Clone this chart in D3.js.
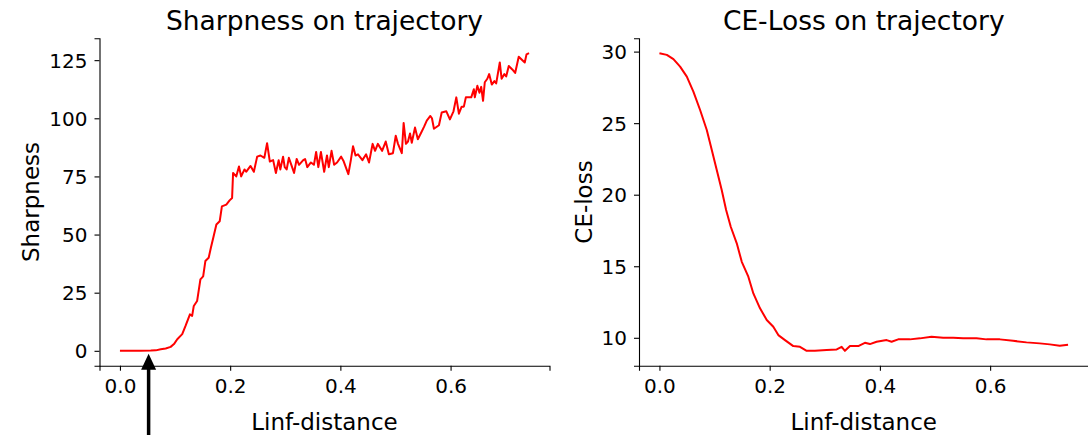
<!DOCTYPE html>
<html>
<head>
<meta charset="utf-8">
<script src="https://cdn.jsdelivr.net/npm/d3@7/dist/d3.min.js"></script>
<style>
  html, body { margin: 0; padding: 0; background: #fff; }
  svg { display: block; font-family: "DejaVu Sans", sans-serif; }
</style>
</head>
<body>
<svg id="chart" width="1088" height="435"></svg>
<script>
// Sharpness measured along the trajectory (Linf-distance from the start point)
const sharpDist = [
  0.000, 0.019, 0.037, 0.056, 0.065, 0.074, 0.083, 0.092, 0.098, 0.104,
  0.113, 0.119, 0.127, 0.131, 0.134, 0.140, 0.146, 0.151, 0.155, 0.161,
  0.165, 0.170, 0.175, 0.181, 0.185, 0.193, 0.199, 0.2035, 0.2053, 0.211,
  0.216, 0.220, 0.226, 0.229, 0.237, 0.243, 0.249, 0.255, 0.262, 0.267,
  0.272, 0.278, 0.283, 0.288, 0.291, 0.296, 0.299, 0.3025, 0.3065, 0.311,
  0.316, 0.3207, 0.325, 0.3326, 0.336, 0.340, 0.3466, 0.352, 0.356, 0.360,
  0.3647, 0.3706, 0.3757, 0.379, 0.384, 0.3887, 0.394, 0.4014, 0.406, 0.4145,
  0.419, 0.423, 0.4275, 0.432, 0.440, 0.4467, 0.452, 0.4585, 0.463, 0.468,
  0.4757, 0.4823, 0.488, 0.4954, 0.5005, 0.5046, 0.5115, 0.5148, 0.519, 0.5227,
  0.5264, 0.5296, 0.5354, 0.5406, 0.547, 0.5522, 0.5568, 0.5633, 0.5662, 0.5698,
  0.5789, 0.5839, 0.5923, 0.5988, 0.6053, 0.6104, 0.6151, 0.6201, 0.6241, 0.6277,
  0.6375, 0.6422, 0.644, 0.6486, 0.6524, 0.6556, 0.6589, 0.6621, 0.6667, 0.670,
  0.6748, 0.6795, 0.6828, 0.6893, 0.6926, 0.6976, 0.7009, 0.7056, 0.712, 0.7172,
  0.7237, 0.7346, 0.7378, 0.7424
];
const sharpValues = [
  0.0, 0.0, 0.0, 0.1, 0.2, 0.7, 1.0, 1.7, 2.9, 5.0,
  7.2, 10.7, 15.7, 15.0, 19.3, 21.4, 30.7, 32.0, 38.6, 40.0,
  44.3, 49.3, 54.3, 55.7, 62.1, 62.9, 64.7, 65.7, 76.5, 75.0,
  79.3, 75.0, 78.0, 77.0, 79.5, 77.0, 83.5, 84.0, 83.0, 89.3,
  81.4, 82.0, 76.5, 82.0, 78.0, 83.5, 79.0, 78.0, 83.0, 80.0,
  76.5, 82.5, 80.0, 82.0, 82.5, 79.0, 81.0, 80.0, 85.5, 79.0,
  85.5, 77.0, 84.0, 79.0, 86.0, 80.0, 81.0, 83.5, 81.5, 76.0,
  82.0, 88.0, 84.0, 84.5, 82.0, 84.5, 81.0, 89.0, 86.0, 89.0,
  86.0, 90.0, 84.5, 85.0, 92.5, 89.0, 85.0, 98.0, 89.0, 90.0,
  93.5, 89.5, 96.0, 91.0, 94.0, 96.5, 99.0, 101.0, 100.0, 95.5,
  97.0, 102.5, 103.0, 99.5, 103.0, 109.0, 102.0, 105.0, 105.0, 109.0,
  109.0, 112.5, 109.0, 114.0, 111.0, 113.5, 107.5, 115.5, 117.0, 119.0,
  114.5, 116.0, 115.0, 124.0, 117.0, 119.0, 118.0, 122.5, 121.0, 119.5,
  126.5, 124.0, 127.5, 128.0
];

// Cross-entropy loss along the same trajectory
const ceDist = [
  0.000, 0.0134, 0.0254, 0.0375, 0.0497, 0.0616, 0.0738, 0.0859, 0.095, 0.104,
  0.113, 0.121, 0.1294, 0.1403, 0.1494, 0.1613, 0.1704, 0.1825, 0.1947, 0.2066,
  0.2157, 0.2278, 0.2429, 0.255, 0.2672, 0.282, 0.3034, 0.3216, 0.3306, 0.3366,
  0.3457, 0.3607, 0.3728, 0.3819, 0.394, 0.4122, 0.4212, 0.4332, 0.4544, 0.4726,
  0.4937, 0.5148, 0.533, 0.551, 0.5753, 0.5934, 0.6176, 0.6416, 0.666, 0.690,
  0.7082, 0.7263, 0.7414
];
const ceValues = [
  29.89, 29.77, 29.47, 28.95, 28.25, 27.20, 25.92, 24.52, 23.13, 21.73,
  20.33, 18.93, 17.76, 16.60, 15.31, 14.27, 13.10, 12.06, 11.24, 10.77,
  10.19, 9.84, 9.42, 9.37, 9.09, 9.09, 9.14, 9.19, 9.37, 9.09,
  9.42, 9.42, 9.65, 9.56, 9.72, 9.84, 9.72, 9.89, 9.89, 9.96,
  10.07, 10.00, 10.00, 9.96, 9.96, 9.89, 9.89, 9.79, 9.68, 9.61,
  9.54, 9.44, 9.51
];

const distTicks = [0.0, 0.2, 0.4, 0.6];
const sharpTicks = [0, 25, 50, 75, 100, 125];
const ceTicks = [10, 15, 20, 25, 30];

// Position of the annotation arrow on the sharpness panel
const arrowDist = 0.052;

const svg = d3.select("#chart");
const plotTop = 38.3, plotBottom = 365.7;

function padded(values) {
  const [lo, hi] = d3.extent(values);
  const m = (hi - lo) * 0.05;
  return [lo - m, hi + m];
}

function panel(opts) {
  const g = svg.append("g");
  const x = d3.scaleLinear().domain(padded(opts.xs)).range([opts.left, opts.right]);
  const y = d3.scaleLinear().domain(padded(opts.ys)).range([plotBottom, plotTop]);

  // Bottom axis
  const xa = g.append("g")
    .attr("transform", `translate(0,${plotBottom})`)
    .call(d3.axisBottom(x).tickValues(distTicks).tickFormat(d3.format(".1f"))
      .tickSizeOuter(0).tickSize(5).tickPadding(8));
  // Left axis
  const ya = g.append("g")
    .attr("transform", `translate(${opts.left},0)`)
    .call(d3.axisLeft(y).tickValues(opts.yTicks).tickFormat(d3.format("d"))
      .tickSizeOuter(0).tickSize(5).tickPadding(7));

  [xa, ya].forEach(a => {
    a.attr("font-family", "DejaVu Sans, sans-serif").attr("font-size", 20);
    a.selectAll(".domain").attr("stroke", "#000").attr("stroke-width", 1.1);
    a.selectAll(".tick line").attr("stroke", "#000").attr("stroke-width", 1.1);
    a.selectAll(".tick text").attr("fill", "#000");
  });
  ya.selectAll(".tick text").attr("dy", "0.35em");

  // Curve
  const line = d3.line().x((d, i) => x(opts.xs[i])).y(d => y(d));
  g.append("path")
    .datum(opts.ys)
    .attr("d", line)
    .attr("fill", "none")
    .attr("stroke", "#ff0000")
    .attr("stroke-width", 2)
    .attr("stroke-linejoin", "round");

  const cx = (opts.left + opts.right) / 2;
  // Title
  g.append("text")
    .attr("x", cx).attr("y", 30)
    .attr("text-anchor", "middle")
    .attr("font-size", 26.5)
    .text(opts.title);
  // X label
  g.append("text")
    .attr("x", cx).attr("y", 429.5)
    .attr("text-anchor", "middle")
    .attr("font-size", 23)
    .text("Linf-distance");
  // Y label
  g.append("text")
    .attr("transform", `translate(${opts.yLabelX},${(plotTop + plotBottom) / 2}) rotate(-90)`)
    .attr("text-anchor", "middle")
    .attr("font-size", 23)
    .text(opts.yLabel);

  return { x, y, g };
}

const sharpPanel = panel({
  left: 99.5, right: 549.5,
  xs: sharpDist, ys: sharpValues, yTicks: sharpTicks,
  title: "Sharpness on trajectory", yLabel: "Sharpness", yLabelX: 39
});

panel({
  left: 639, right: 1088.5,
  xs: ceDist, ys: ceValues, yTicks: ceTicks,
  title: "CE-Loss on trajectory", yLabel: "CE-loss", yLabelX: 591.5
});

// Arrow pointing up at the start of the sharpness rise
const ax = sharpPanel.x(arrowDist);
const tipY = sharpPanel.y(0) + 3;
const arrow = svg.append("g");
arrow.append("line")
  .attr("x1", ax).attr("x2", ax)
  .attr("y1", tipY + 12).attr("y2", 440)
  .attr("stroke", "#000").attr("stroke-width", 3.5);
arrow.append("path")
  .attr("d", `M${ax},${tipY} L${ax - 7.5},${tipY + 16} L${ax + 7.5},${tipY + 16} Z`)
  .attr("fill", "#000");
</script>
</body>
</html>
